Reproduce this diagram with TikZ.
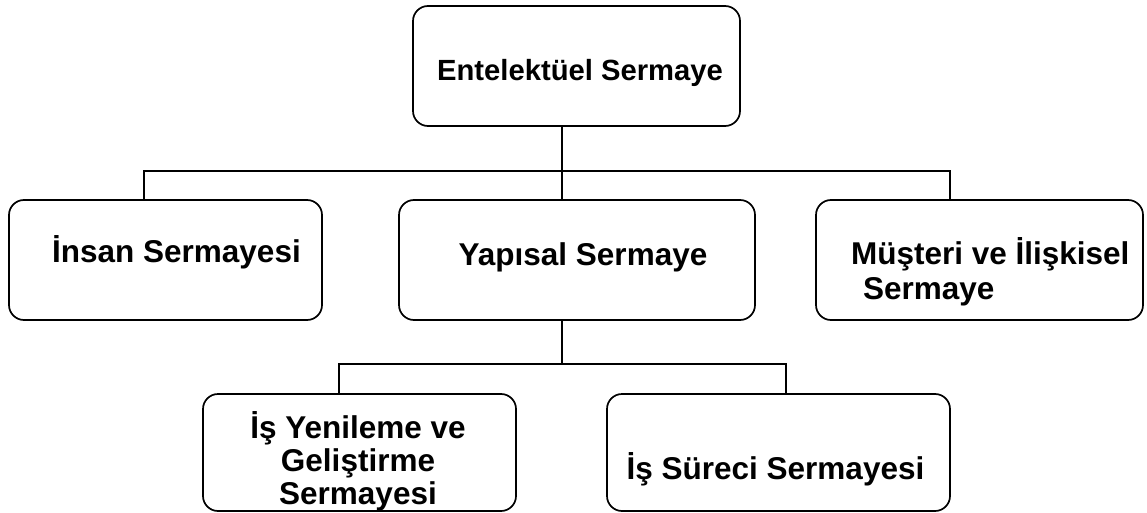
\documentclass[tikz,border=0pt]{standalone}
\usepackage{fontspec}
\setmainfont{Liberation Sans}
\begin{document}
\begin{tikzpicture}[x=1pt,y=-1pt,
  box/.style={draw=black,line width=1.7pt,rounded corners=15pt,inner sep=0pt,outer sep=0pt},
  lbl/.style={inner sep=0pt,outer sep=0pt,anchor=base,font=\fontsize{31.5}{33.5}\selectfont\bfseries},
  lblw/.style={lbl,anchor=base west},
  conn/.style={draw=black,line width=1.2pt}]
\useasboundingbox (0,0) rectangle (1147,513);
% boxes
\node[box,minimum width=327pt,minimum height=120pt] (top) at (576.5,66) {};
\node[box,minimum width=313pt,minimum height=120pt] (insan) at (165.5,260) {};
\node[box,minimum width=356pt,minimum height=120pt] (yapisal) at (577,260) {};
\node[box,minimum width=327pt,minimum height=120pt] (musteri) at (979.5,260) {};
\node[box,minimum width=313pt,minimum height=117pt] (isy) at (359.5,452.5) {};
\node[box,minimum width=343pt,minimum height=117pt] (issur) at (778.5,452.5) {};
% texts
\node[lbl,font=\fontsize{29.2}{33.5}\selectfont\bfseries] (ttop) at (580,81) {Entelektüel Sermaye};
\node[lbl] (tinsan) at (176.5,262) {İnsan Sermayesi};
\node[lbl] (tyap) at (583,265) {Yapısal Sermaye};
\node[lblw] (tmus1) at (851,264) {Müşteri ve İlişkisel};
\node[lblw] (tmus2) at (863,299) {Sermaye};
\node[lbl] (tisy1) at (358,438) {İş Yenileme ve};
\node[lbl] (tisy2) at (358,471) {Geliştirme};
\node[lbl] (tisy3) at (358,504) {Sermayesi};
\node[lbl] (tsur) at (775.5,479) {İş Süreci Sermayesi};
% connector coordinates
\coordinate (j1) at (562,171);
\coordinate (j2) at (562,364);
\coordinate (x1) at (144,0);
\coordinate (x3) at (950,0);
\coordinate (x4) at (339,0);
\coordinate (x5) at (786,0);
% connectors
\draw[conn] (top.south -| j1) -- (j1);
\draw[conn] (insan.north -| x1) |- (j1) -| (musteri.north -| x3);
\draw[conn] (j1) -- (yapisal.north -| j1);
\draw[conn] (yapisal.south -| j2) -- (j2);
\draw[conn] (isy.north -| x4) |- (j2) -| (issur.north -| x5);
\end{tikzpicture}
\end{document}
